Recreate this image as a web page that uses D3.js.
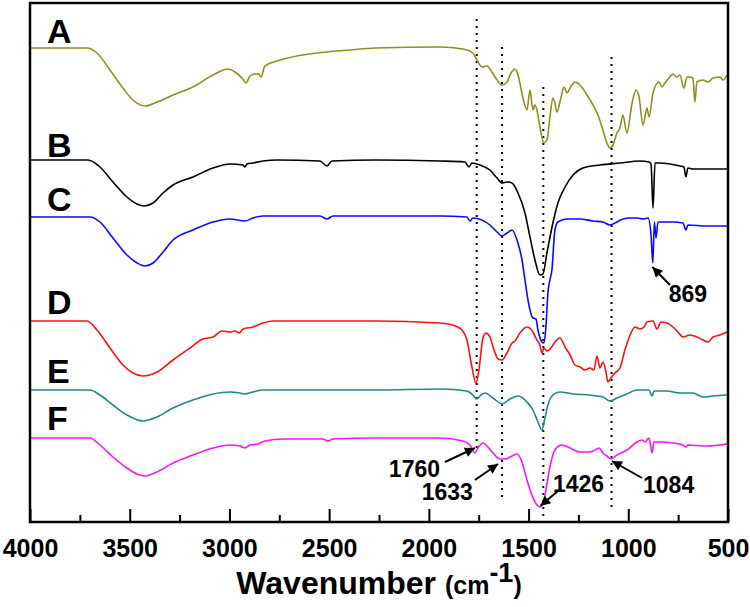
<!DOCTYPE html>
<html>
<head>
<meta charset="utf-8">
<script src="https://cdn.jsdelivr.net/npm/d3@7"></script>
<style>
  body { margin: 0; background: #fff; }
  svg { display: block; font-family: "Liberation Sans", Arial, sans-serif; }
</style>
</head>
<body>
<svg id="chart" width="750" height="607"></svg>
<script>
// FTIR spectra, offset transmittance (a.u.) vs wavenumber
var names = ['A', 'B', 'C', 'D', 'E', 'F'];
var colors = ['#8f8f1f', '#000000', '#0a0aff', '#ff1010', '#1f8a80', '#ff10ff'];

var specA = [[4000,474],[3850,474],[3714,474],[3664,469],[3599,452],[3534,434],[3484,422],[3423,416],[3363,420],[3283,427],[3183,435],[3082,447],[3007,453],[2972,450],[2937,444],[2917,439],[2897,446],[2872,448],[2852,448],[2842,445],[2822,456],[2761,461],[2561,469],[2395,472],[2270,474],[1944,475],[1829,473],[1779,469],[1759,462],[1734,455],[1709,456],[1684,450],[1658,442],[1633,437],[1608,440],[1588,449],[1568,453],[1553,447],[1528,424],[1508,412],[1493,432],[1478,412],[1468,417],[1458,412],[1443,395],[1423,379],[1408,382],[1393,405],[1378,424],[1368,419],[1358,410],[1338,424],[1322,435],[1307,429],[1292,434],[1267,440],[1242,437],[1207,427],[1177,417],[1152,407],[1132,395],[1107,379],[1092,374],[1077,377],[1057,389],[1042,394],[1027,407],[1007,389],[981,419],[961,432],[946,425],[926,397],[906,414],[896,405],[876,429],[846,440],[831,435],[816,439],[796,444],[776,448],[756,445],[741,447],[721,434],[706,445],[691,445],[676,444],[666,420],[656,440],[625,442],[600,440],[575,444],[540,445],[525,442],[505,447]];

var specB = [[4000,362],[3709,362],[3649,355],[3584,340],[3514,325],[3463,318],[3428,316],[3383,319],[3333,329],[3283,337],[3183,345],[3082,354],[2997,358],[2932,357],[2922,355],[2912,358],[2882,359],[2832,361],[2761,362],[2546,361],[2511,356],[2486,361],[2270,362],[1944,361],[1819,360],[1799,355],[1784,359],[1744,357],[1694,352],[1658,344],[1633,339],[1608,340],[1583,339],[1553,329],[1518,309],[1493,285],[1468,262],[1443,247],[1428,248],[1408,269],[1378,299],[1353,319],[1317,335],[1277,347],[1227,354],[1142,357],[1042,359],[941,361],[896,360],[886,358],[876,314],[866,359],[841,359],[741,356],[721,355],[711,345],[701,354],[676,353],[500,353]];

var specC = [[4000,305],[3699,305],[3649,300],[3584,284],[3514,267],[3463,259],[3423,256],[3383,259],[3333,270],[3283,282],[3183,292],[3082,300],[2997,303],[2922,301],[2882,304],[2832,306],[2546,306],[2511,303],[2481,306],[2270,306],[1944,306],[1809,305],[1794,301],[1779,304],[1694,297],[1658,290],[1633,286],[1608,289],[1583,292],[1558,282],[1533,262],[1518,242],[1503,222],[1478,204],[1463,203],[1453,192],[1433,180],[1423,179],[1413,195],[1403,229],[1393,242],[1383,252],[1368,292],[1353,300],[1307,303],[1242,303],[1177,301],[1127,300],[1092,297],[1057,300],[1027,303],[991,304],[956,304],[926,303],[901,304],[886,287],[877,259],[869,300],[861,284],[851,300],[776,300],[726,299],[711,292],[701,297],[605,296],[500,296]];

var specD = [[4000,201],[3714,201],[3664,192],[3599,174],[3534,157],[3484,149],[3433,146],[3363,150],[3283,162],[3198,174],[3133,183],[3082,185],[3037,191],[2997,190],[2972,191],[2952,189],[2932,193],[2882,195],[2832,199],[2782,201],[2270,201],[1944,199],[1879,197],[1834,192],[1809,182],[1784,155],[1764,139],[1749,152],[1729,184],[1714,189],[1694,185],[1673,172],[1653,163],[1633,162],[1608,169],[1583,179],[1568,181],[1543,189],[1508,195],[1478,190],[1458,182],[1443,177],[1433,169],[1423,174],[1408,171],[1388,174],[1368,180],[1343,184],[1317,175],[1292,167],[1267,157],[1242,155],[1217,152],[1192,154],[1172,152],[1157,166],[1142,154],[1127,160],[1112,150],[1102,140],[1087,144],[1067,149],[1042,154],[1017,172],[991,187],[966,195],[941,193],[921,195],[906,200],[876,201],[856,193],[836,200],[806,199],[776,195],[751,190],[726,185],[691,187],[656,185],[625,182],[600,180],[575,185],[540,187],[505,190]];

var specE = [[4000,132],[3699,132],[3649,127],[3584,117],[3514,107],[3433,101],[3363,105],[3283,114],[3183,122],[3082,128],[2997,130],[2947,129],[2922,128],[2882,130],[2832,132],[2270,132],[1944,133],[1809,131],[1779,127],[1759,123],[1744,126],[1719,129],[1678,124],[1633,118],[1593,123],[1553,126],[1508,120],[1478,112],[1453,100],[1433,92],[1418,104],[1403,117],[1378,127],[1343,130],[1277,128],[1192,127],[1157,126],[1127,125],[1092,121],[1057,124],[1007,128],[956,132],[896,132],[881,126],[871,131],[806,131],[741,129],[676,129],[625,125],[575,126],[505,127]];

var specF = [[4000,84],[3699,84],[3649,77],[3584,65],[3514,54],[3463,48],[3423,46],[3363,50],[3283,59],[3183,67],[3082,74],[2997,77],[2947,76],[2922,74],[2897,77],[2857,78],[2822,81],[2731,83],[2531,83],[2506,81],[2481,83],[2270,84],[1944,84],[1829,81],[1794,77],[1769,69],[1754,74],[1729,79],[1704,75],[1678,69],[1643,63],[1618,63],[1583,66],[1558,68],[1533,60],[1508,42],[1483,27],[1458,17],[1443,15],[1428,18],[1413,32],[1393,55],[1368,72],[1333,77],[1292,74],[1242,70],[1192,70],[1157,73],[1147,74],[1127,69],[1107,66],[1087,63],[1057,67],[1007,72],[956,80],[931,82],[916,80],[896,84],[881,69],[871,80],[841,80],[776,79],[726,77],[711,75],[701,77],[605,76],[505,78]];

var spectra = [specA, specB, specC, specD, specE, specF];

// sample letters, placed at left of each trace
var labelV = [479, 365, 311, 208, 139, 92];

// dotted guide lines at band positions
var guideWn = [1760, 1633, 1426, 1084];
var guideTop = [503, 475, 435, 465];
var guideBottom = [74, 22, 2, 10];

// annotations: text, text anchor point, arrow tail, arrow tip
var annText = ['869', '1760', '1633', '1426', '1084'];
var annAt = [[701, 220], [1944, 45], [1779, 22], [1378, 30], [926, 29]];
var annAnchor = ['middle', 'end', 'end', 'start', 'start'];
var annTail = [[791, 237], [1919, 60], [1769, 42], [1353, 31], [931, 44]];
var annTip = [[879, 255], [1769, 74], [1653, 58], [1441, 16], [1082, 61]];

var majorTicks = [4000, 3500, 3000, 2500, 2000, 1500, 1000, 500];
var minorTicks = [3750, 3250, 2750, 2250, 1750, 1250, 750];

var svg = d3.select('#chart');
var plotLeft = 30, plotRight = 728, plotTop = 3, plotBottom = 522;

var x = d3.scaleLinear().domain([4000, 500]).range([plotLeft, plotRight]);
var y = d3.scaleLinear().domain([0, 519]).range([plotBottom, plotTop]);

var defs = svg.append('defs');
defs.append('marker')
    .attr('id', 'arrow')
    .attr('viewBox', '0 0 10 10')
    .attr('refX', 10).attr('refY', 5)
    .attr('markerWidth', 12).attr('markerHeight', 10)
    .attr('markerUnits', 'userSpaceOnUse')
    .attr('orient', 'auto')
    .append('path')
    .attr('d', 'M0,0 L10,5 L0,10 z')
    .attr('fill', '#000');

// guides
var g = svg.append('g');
for (var i = 0; i < guideWn.length; i++) {
    g.append('line')
        .attr('x1', x(guideWn[i])).attr('x2', x(guideWn[i]))
        .attr('y1', y(guideTop[i])).attr('y2', y(guideBottom[i]))
        .attr('stroke', '#000')
        .attr('stroke-width', 2)
        .attr('stroke-dasharray', '2,5');
}

// spectra
var line = d3.line()
    .x(function (d) { return x(d[0]); })
    .y(function (d) { return y(d[1]); })
    .curve(d3.curveMonotoneX);

for (var i = 0; i < spectra.length; i++) {
    svg.append('path')
        .datum(spectra[i])
        .attr('d', line)
        .attr('fill', 'none')
        .attr('stroke', colors[i])
        .attr('stroke-width', 1.6)
        .attr('stroke-linejoin', 'round');
}

// letters
for (var i = 0; i < names.length; i++) {
    svg.append('text')
        .attr('x', 47)
        .attr('y', y(labelV[i]))
        .style('font-size', '34px')
        .style('font-weight', 'bold')
        .text(names[i]);
}

// annotations
for (var i = 0; i < annText.length; i++) {
    svg.append('line')
        .attr('x1', x(annTail[i][0])).attr('y1', y(annTail[i][1]))
        .attr('x2', x(annTip[i][0])).attr('y2', y(annTip[i][1]))
        .attr('stroke', '#000')
        .attr('stroke-width', 2)
        .attr('marker-end', 'url(#arrow)');
    svg.append('text')
        .attr('x', x(annAt[i][0]))
        .attr('y', y(annAt[i][1]))
        .attr('text-anchor', annAnchor[i])
        .style('font-size', '23px')
        .style('font-weight', 'bold')
        .text(annText[i]);
}

// axis
var xAxis = svg.append('g')
    .attr('transform', 'translate(0,' + plotBottom + ')')
    .call(d3.axisBottom(x).tickValues(majorTicks).tickSize(-13).tickPadding(17).tickFormat(d3.format('d')));
xAxis.select('.domain').remove();
xAxis.selectAll('line').attr('stroke-width', 2);
xAxis.selectAll('text')
    .style('font-size', '25px')
    .style('font-weight', 'bold')
    .style('font-family', '"Liberation Sans", Arial, sans-serif')
    .attr('fill', '#000');

var xMinor = svg.append('g')
    .attr('transform', 'translate(0,' + plotBottom + ')')
    .call(d3.axisBottom(x).tickValues(minorTicks).tickSize(-7).tickFormat(''));
xMinor.select('.domain').remove();
xMinor.selectAll('line').attr('stroke-width', 2);

// frame
svg.append('rect')
    .attr('x', plotLeft).attr('y', plotTop)
    .attr('width', plotRight - plotLeft).attr('height', plotBottom - plotTop)
    .attr('fill', 'none')
    .attr('stroke', '#000')
    .attr('stroke-width', 2.5);

// title
var title = svg.append('text')
    .attr('x', (plotLeft + plotRight) / 2)
    .attr('y', 594)
    .attr('text-anchor', 'middle')
    .style('font-weight', 'bold');
title.append('tspan').style('font-size', '32px').text('Wavenumber ');
title.append('tspan').style('font-size', '25px').text('(cm');
title.append('tspan').style('font-size', '27px').attr('dy', -12).text('-1');
title.append('tspan').style('font-size', '25px').attr('dy', 12).text(')');
</script>
</body>
</html>
